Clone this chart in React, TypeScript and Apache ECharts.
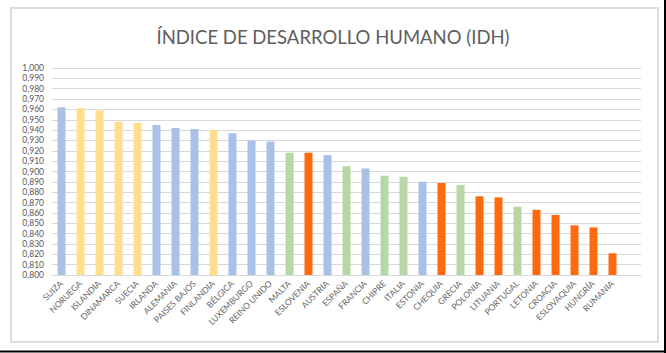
import React, { useEffect, useRef } from "react";
import * as echarts from "echarts";

const countries = [
  "SUIZA", "NORUEGA", "ISLANDIA", "DINAMARCA", "SUECIA", "IRLANDA", "ALEMANIA",
  "PAISES BAJOS", "FINLANDIA", "BÉLGICA", "LUXEMBURGO", "REINO UNIDO", "MALTA",
  "ESLOVENIA", "AUSTRIA", "ESPAÑA", "FRANCIA", "CHIPRE", "ITALIA", "ESTONIA",
  "CHEQUIA", "GRECIA", "POLONIA", "LITUANIA", "PORTUGAL", "LETONIA", "CROACIA",
  "ESLOVAQUIA", "HUNGRÍA", "RUMANIA", "",
];

const idh = [
  0.962, 0.961, 0.959, 0.948, 0.947, 0.945, 0.942, 0.941, 0.940, 0.937, 0.930,
  0.929, 0.918, 0.918, 0.916, 0.905, 0.903, 0.896, 0.895, 0.890, 0.889, 0.887,
  0.876, 0.875, 0.866, 0.863, 0.858, 0.848, 0.846, 0.821, null,
];

const groups = [
  "centro", "norte", "norte", "norte", "norte", "centro", "centro", "centro",
  "norte", "centro", "centro", "centro", "sur", "este", "centro", "sur",
  "centro", "sur", "sur", "centro", "este", "sur", "este", "este", "sur",
  "este", "este", "este", "este", "este", "",
];

const yTicks = { min: 0.8, max: 1.0, interval: 0.01 };

const groupColors: Record<string, string> = {
  centro: "#a9c1e6",
  norte: "#ffdf8c",
  sur: "#b8d7a6",
  este: "#ff6a0e",
};

export default function App() {
  const ref = useRef<HTMLDivElement>(null);
  useEffect(() => {
    if (!ref.current) return;
    const chart = echarts.init(ref.current, null, { renderer: "svg" });
    const font = "Lato, 'Open Sans', sans-serif";
    chart.setOption({
      animation: false,
      backgroundColor: "#ffffff",
      textStyle: { fontFamily: font },
      title: {
        text: "ÍNDICE DE DESARROLLO HUMANO (IDH)",
        left: "center",
        top: 22,
        textStyle: { fontSize: 18.5, fontWeight: "normal", color: "#5e5e5e", fontFamily: font },
      },
      graphic: [
        {
          type: "rect",
          shape: { x: 11, y: 8, width: 647, height: 334 },
          style: { fill: "none", stroke: "#dcdcdc", lineWidth: 2 },
          silent: true,
        },
        {
          type: "line",
          shape: { x1: 0, y1: 351.5, x2: 666, y2: 351.5 },
          style: { stroke: "#000", lineWidth: 2 },
          silent: true,
        },
        {
          type: "line",
          shape: { x1: 665, y1: 0, x2: 665, y2: 353 },
          style: { stroke: "#000", lineWidth: 2 },
          silent: true,
        },
      ],
      grid: { left: 52, right: 25, top: 68, bottom: 78, containLabel: false },
      xAxis: {
        type: "category",
        data: countries,
        axisTick: { show: false },
        axisLine: { lineStyle: { color: "#d9d9d9" } },
        axisLabel: {
          rotate: 45,
          interval: 0,
          fontSize: 8.5,
          color: "#666666",
          margin: 7,
          fontFamily: font,
        },
      },
      yAxis: {
        type: "value",
        min: yTicks.min,
        max: yTicks.max,
        interval: yTicks.interval,
        axisLine: { show: false },
        axisTick: { show: false },
        splitLine: { lineStyle: { color: "#d9d9d9", width: 1 } },
        axisLabel: {
          fontSize: 8.5,
          color: "#595959",
          margin: 8,
          fontFamily: font,
          formatter: (v: number) => v.toFixed(3).replace(".", ","),
        },
      },
      series: [
        {
          type: "bar",
          barWidth: 8,
          data: idh.map((v, i) => ({
            value: v,
            itemStyle: { color: groupColors[groups[i]] || "#a9c1e6" },
          })),
        },
      ],
    });
    return () => chart.dispose();
  }, []);
  return (
    <div
      ref={ref}
      style={{ position: "fixed", left: 0, top: 0, width: 666, height: 353 }}
    />
  );
}
